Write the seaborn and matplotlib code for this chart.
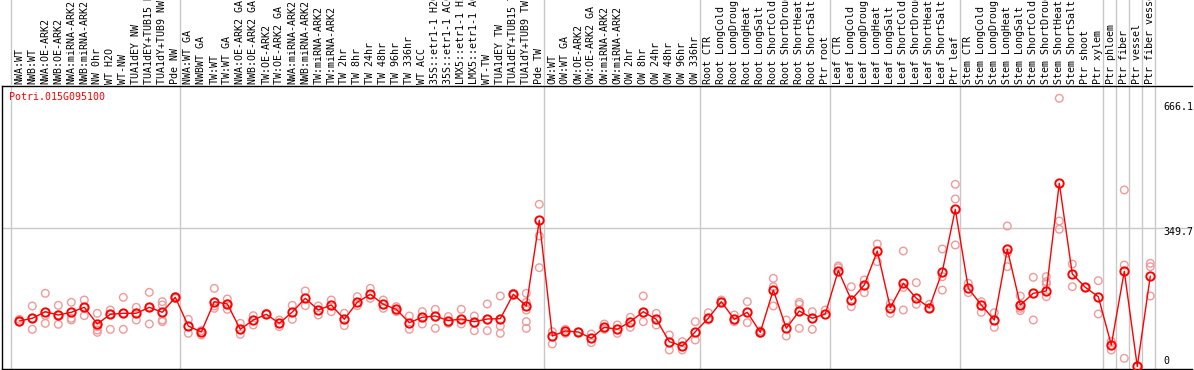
import numpy as np
import pandas as pd
import matplotlib
matplotlib.use("Agg")
import matplotlib.pyplot as plt
import seaborn as sns

# ---------------- data ----------------
gene_id = "Potri.015G095100"

categories = [
    "NWA:WT", "NWB:WT", "NWA:OE-ARK2", "NWB:OE-ARK2", "NWA:miRNA-ARK2", "NWB:miRNA-ARK2",
    "NW 0hr", "WT H2O", "WT-NW", "TUA1dEY NW", "TUA1dEY+TUB15 NW", "TUA1dY+TUB9 NW", "Pde NW",
    "NWA:WT GA", "NWBWT GA", "TW:WT", "TW:WT GA", "NWA:OE-ARK2 GA", "NWB:OE-ARK2 GA",
    "TW:OE-ARK2", "TW:OE-ARK2 GA", "NWA:miRNA-ARK2", "NWB:miRNA-ARK2", "TW:miRNA-ARK2",
    "TW:miRNA-ARK2", "TW 2hr", "TW 8hr", "TW 24hr", "TW 48hr", "TW 96hr", "TW 336hr",
    "WT ACC", "35S::etr1-1 H2O", "35S::etr1-1 ACC", "LMX5::etr1-1 H2O", "LMX5::etr1-1 ACC",
    "WT-TW", "TUA1dEY TW", "TUA1dEY+TUB15 TW", "TUA1dY+TUB9 TW", "Pde TW",
    "OW:WT", "OW:WT GA", "OW:OE-ARK2", "OW:OE-ARK2 GA", "OW:miRNA-ARK2", "OW:miRNA-ARK2",
    "OW 2hr", "OW 8hr", "OW 24hr", "OW 48hr", "OW 96hr", "OW 336hr",
    "Root CTR", "Root LongCold", "Root LongDrought", "Root LongHeat", "Root LongSalt",
    "Root ShortCold", "Root ShortDrought", "Root ShortHeat", "Root ShortSalt", "Ptr root",
    "Leaf CTR", "Leaf LongCold", "Leaf LongDrought", "Leaf LongHeat", "Leaf LongSalt",
    "Leaf ShortCold", "Leaf ShortDrought", "Leaf ShortHeat", "Leaf ShortSalt", "Ptr leaf",
    "Stem CTR", "Stem LongCold", "Stem LongDrought", "Stem LongHeat", "Stem LongSalt",
    "Stem ShortCold", "Stem ShortDrought", "Stem ShortHeat", "Stem ShortSalt", "Ptr shoot",
    "Ptr xylem", "Ptr phloem", "Ptr fiber", "Ptr vessel", "Ptr fiber vessel",
]

mean_values = [
    115.2, 122.0, 138.7, 130.4, 137.2, 149.9, 107.6, 132.2, 134.7, 134.7, 149.9, 137.2, 175.2,
    102.5, 87.4, 164.1, 158.3, 94.2, 117.7, 132.2, 109.4, 138.0, 172.7, 143.1, 155.7, 119.5,
    162.6, 182.8, 157.5, 144.8, 110.9, 124.6, 127.9, 116.0, 120.3, 113.4, 120.3, 121.0, 182.8,
    153.2, 370.2,
    77.2, 89.9, 87.4, 71.4, 99.3, 94.2, 113.4, 138.7, 119.5, 62.8, 51.9, 88.1,
    122.0, 164.1, 119.5, 137.2, 86.6, 193.7, 96.7, 140.5, 122.0, 132.9,
    243.0, 168.4, 206.4, 292.4, 148.9, 210.7, 172.7, 148.9, 240.5, 398.0,
    198.0, 155.7, 117.7, 296.8, 155.7, 185.3, 191.2, 463.9, 234.2, 200.5, 176.7,
    54.4, 241.0, 0.0, 229.1,
]

replicate_values = [
    [119.4, 112.7], [153.2, 94.1, 122.0], [185.3, 128.7, 109.3], [154.9, 106.8, 130.4],
    [162.5, 122.0, 117.7], [168.4, 128.7, 149.8], [134.6, 92.4, 86.5, 100.9],
    [143.1, 94.1, 132.1], [175.1, 94.1, 134.6], [149.8, 117.7, 134.6], [187.8, 107.6, 149.8],
    [164.2, 155.7, 117.7, 113.5], [176.8, 172.6],
    [119.4, 84.0], [90.7, 79.8], [197.8, 147.3, 153.2], [170.9, 144.7, 158.3], [109.3, 81.4],
    [128.7, 105.1], [134.6], [117.7, 100.9], [154.9, 119.4], [191.2, 154.0], [153.2, 130.4],
    [168.4, 138.8], [134.6, 103.4], [176.8, 154.0], [197.8, 172.6], [168.4, 147.3],
    [151.5, 138.8], [127.9, 94.1], [138.8, 107.6], [144.7, 96.6], [126.2, 109.3],
    [144.7, 107.6], [127.9, 90.7], [158.3, 90.7], [178.5, 102.5, 84.0], [185.3, 181.0],
    [185.3, 162.5, 143.1, 113.5, 96.6], [410.7, 330.4, 250.2],
    [88.2, 57.0], [94.1, 84.0], [87.4], [82.3, 60.3], [107.6, 94.1], [105.1, 84.0],
    [124.5, 99.2], [178.5, 113.5], [134.6, 105.1], [79.8, 41.8], [62.9, 41.8], [113.5, 67.1],
    [136.3, 117.7], [168.4, 162.5], [130.4, 113.5], [164.2, 111.0], [89.9, 84.0],
    [223.2, 202.1, 153.2], [117.7, 77.2], [162.5, 157.4, 96.6], [138.8, 94.1], [143.1],
    [254.5, 250.2], [202.1, 151.5], [219.0, 186.9], [310.2, 265.3], [159.9, 134.6],
    [200.4, 143.1, 292.4], [212.3, 157.4], [157.4, 147.3], [193.5, 297.5, 227.4],
    [461.3, 424.1, 307.6],
    [210.6, 187.0], [164.2, 137.2], [136.3, 99.2], [355.7, 287.4, 252.7],
    [178.5, 147.3, 141.4], [117.7, 225.9], [227.5, 214.8, 208.9, 176.8],
    [679.1, 368.4, 347.4], [202.1, 259.5], [200.4], [217.3, 132.9],
    [63.3, 41.8], [20.7, 446.9, 257.0], [0.0], [178.5, 261.3, 252.7],
]

group_starts = [0, 13, 41, 53, 63, 73, 84, 85, 86, 87, 88]
axis_labels = ["666.1", "349.7", "0"]
grid_value = 349.7

# ---------------- frames ----------------
x_idx = np.arange(len(categories))
df_mean = pd.DataFrame({"x": x_idx, "value": mean_values})
rep_x, rep_v = [], []
for i, reps in enumerate(replicate_values):
    for v in reps:
        rep_x.append(i)
        rep_v.append(v)
df_rep = pd.DataFrame({"x": rep_x, "value": rep_v})

# ---------------- figure ----------------
sns.set_theme(style="white")
plt.rcParams["font.family"] = ["DejaVu Sans Mono", "DejaVu Sans"]

W, H = 1194, 370
fig = plt.figure(figsize=(W / 100, H / 100), dpi=100)

ax_left_px, ax_right_px = 2, 1192
ax_top_px, ax_bot_px = 86, 369
ax = fig.add_axes([ax_left_px / W, 1 - ax_bot_px / H,
                   (ax_right_px - ax_left_px) / W, (ax_bot_px - ax_top_px) / H])
lab = fig.add_axes([ax_left_px / W, 1 - ax_top_px / H,
                    (ax_right_px - ax_left_px) / W, ax_top_px / H])

x0_px, dx_px = 19.3, 13.0
xlim = ((ax_left_px - x0_px) / dx_px, (ax_right_px - x0_px) / dx_px)
ax.set_xlim(*xlim)
lab.set_xlim(*xlim)
ax.set_ylim(-6.33, 710.2)
lab.set_ylim(0, 1)

grid_color = "#c8c8c8"
for b in group_starts:
    ax.axvline(b - 0.63, color=grid_color, lw=1.0, zorder=0)
    lab.axvline(b - 0.63, color=grid_color, lw=1.0, zorder=0)
ax.axhline(grid_value, color=grid_color, lw=1.0, zorder=0)

sns.scatterplot(data=df_rep, x="x", y="value", ax=ax, marker="o", s=30,
                facecolors="none", edgecolors="#f09a9a", linewidths=1.0, zorder=2, legend=False)
sns.lineplot(data=df_mean, x="x", y="value", ax=ax, color="#ff0000", lw=1.0,
             marker="o", markersize=6, markerfacecolor="none", markeredgecolor="#ff0000",
             markeredgewidth=1.4, zorder=3, legend=False)

ax.set_xlabel("")
ax.set_ylabel("")
ax.set_xticks([])
ax.set_yticks([])
for s in ["left", "bottom", "top", "right"]:
    ax.spines[s].set_visible(True)
    ax.spines[s].set_color("black")
    ax.spines[s].set_linewidth(1.0)
ax.spines["right"].set_visible(False)

lab.axis("off")
for i, c in enumerate(categories):
    lab.text(i, 2 / ax_top_px, c, rotation=90, ha="center", va="bottom",
             fontsize=7.2, color="black", clip_on=False)

fig.text(9 / W, 1 - 97 / H, gene_id, color="#ff0000", fontsize=7.2, ha="left", va="center")
for txt, ypx in zip(axis_labels, [107, 232, 361]):
    fig.text(1163 / W, 1 - ypx / H, txt, color="black", fontsize=7.2, ha="left", va="center")

fig.savefig("out.png", dpi=100)
